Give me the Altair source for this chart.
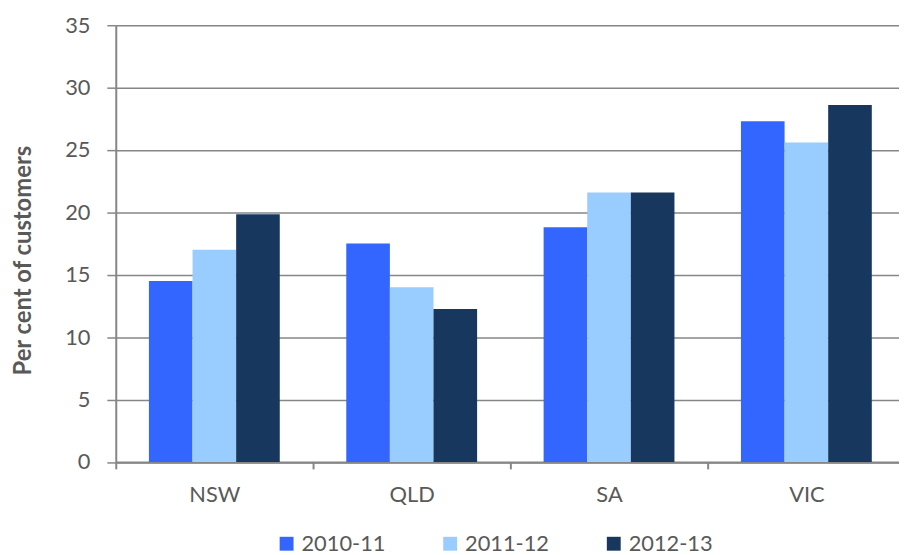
import altair as alt
import pandas as pd

states = ["NSW", "QLD", "SA", "VIC"]
years = ["2010-11", "2011-12", "2012-13"]
v_2010_11 = [14.5, 17.5, 18.8, 27.3]
v_2011_12 = [17.0, 14.0, 21.6, 25.6]
v_2012_13 = [19.85, 12.25, 21.6, 28.6]
colors = ["#3366FF", "#99CCFF", "#17375E"]
y_ticks = [0, 5, 10, 15, 20, 25, 30, 35]

rows = []
for yr, vals in zip(years, [v_2010_11, v_2011_12, v_2012_13]):
    for s, v in zip(states, vals):
        rows.append({"state": s, "year": yr, "value": v})
df = pd.DataFrame(rows)

FONT = "Lato"
GREY = "#595959"
LINE = "#868686"

chart = alt.Chart(df).mark_bar().encode(
    x=alt.X(
        "state:N", sort=states, title=None,
        scale=alt.Scale(range=[0, 796], paddingInner=0.337, paddingOuter=0.168),
        axis=alt.Axis(
            bandPosition=0, tickOffset=-33.5, labelOffset=33.5, labelAngle=0, tickSize=7,
            labelPadding=16, labelFont=FONT, labelFontSize=22, labelColor=GREY,
            domainColor=LINE, domainWidth=2, tickColor=LINE, tickWidth=2, grid=False,
        ),
    ),
    xOffset=alt.XOffset("year:N", sort=years, scale=alt.Scale(paddingInner=0, paddingOuter=0)),
    y=alt.Y(
        "value:Q", title="Per cent of customers",
        scale=alt.Scale(domain=[0, 35], nice=False),
        axis=alt.Axis(
            values=y_ticks, tickSize=9, labelPadding=17, labelFont=FONT, labelFontSize=22,
            labelColor=GREY, domainColor=LINE, domainWidth=2, tickColor=LINE, tickWidth=1.5,
            gridColor=LINE, gridWidth=1.5, titleFont=FONT, titleFontSize=24,
            titleFontWeight="bold", titleColor=GREY, titleX=-92.7, titleY=237,
            titleAlign="center", titleBaseline="middle", titleAngle=-90,
        ),
    ),
    color=alt.Color(
        "year:N", sort=years,
        scale=alt.Scale(domain=years, range=colors),
        legend=alt.Legend(
            title=None, orient="none", direction="horizontal", legendX=161.3, legendY=512,
            symbolType="square", symbolSize=196, symbolStrokeWidth=0, symbolOpacity=1,
            labelFont=FONT, labelFontSize=22, labelColor=GREY, labelOffset=4,
            columnPadding=54, padding=0,
        ),
    ),
).properties(
    width=790, height=440.5,
    autosize=alt.AutoSizeParams(type="none"),
    padding={"left": 108.7, "top": 15, "right": 0, "bottom": 92},
).configure_view(stroke=None)

chart.save("out.html", embed_options={"renderer": "svg", "actions": False})
